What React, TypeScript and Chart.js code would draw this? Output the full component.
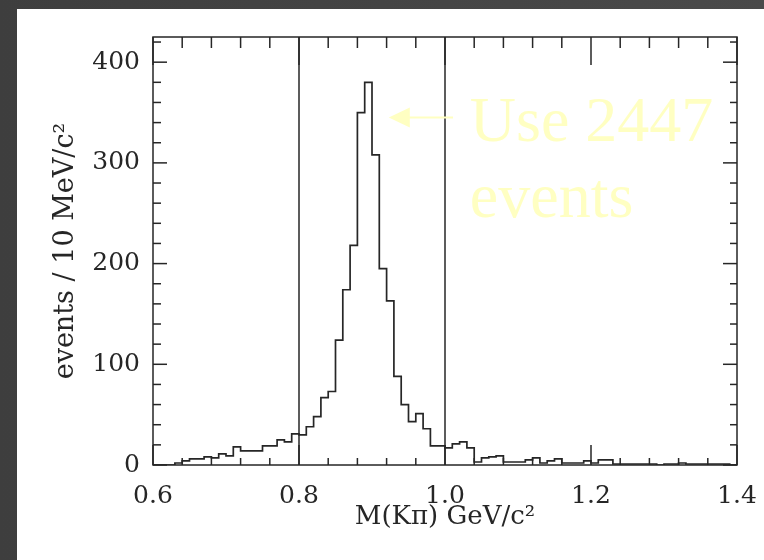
import React, { useEffect, useRef } from "react";
import { Chart, registerables } from "chart.js";

Chart.register(...registerables);

// ---- data ----
const binStart = 0.6;
const binWidth = 0.01; // 10 MeV/c^2 bins
const counts = [
  0, 0, 0, 2, 4, 6, 6, 8, 7, 11,
  9, 18, 14, 14, 14, 19, 19, 25, 23, 31,
  30, 38, 48, 67, 73, 124, 174, 218, 350, 380,
  308, 195, 163, 88, 60, 43, 51, 36, 19, 19,
  17, 21, 23, 17, 3, 7, 8, 9, 3, 3,
  3, 5, 7, 2, 4, 6, 2, 2, 2, 4,
  2, 5, 5, 1, 1, 1, 1, 1, 1, 0,
  1, 1, 2, 1, 1, 1, 1, 1, 1, 0,
];
const xMin = 0.6;
const xMax = 1.4;
const yMin = 0;
const yMax = 425;
const xMajorTicks = [0.6, 0.8, 1.0, 1.2, 1.4];
const yMajorTicks = [0, 100, 200, 300, 400];
const xMinorStep = 0.04;
const yMinorStep = 20;
const cutLines = [0.8, 1.0];
const xTitle = "M(Kπ) GeV/c²";
const yTitle = "events / 10 MeV/c²";
const noteLines = ["Use 2447", "events"];
// annotation anchor points in data units
const arrowTip = { x: 0.923, y: 345 };
const arrowTail = { x: 1.011, y: 345 };
const noteAnchor = { x: 1.034, y: [322, 246] };

const histPoints = counts.map((c, k) => ({ x: binStart + k * binWidth, y: c }));
histPoints.push({ x: binStart + counts.length * binWidth, y: counts[counts.length - 1] });

const INK = "#262626";
const NOTE = "#ffffc2";

const decorPlugin = {
  id: "decor",
  afterDatasetsDraw(chart: any) {
    const { ctx, chartArea: a, scales } = chart;
    const x = scales.x;
    const y = scales.y;
    ctx.save();
    ctx.strokeStyle = INK;
    ctx.lineWidth = 1.5;
    const line = (x1: number, y1: number, x2: number, y2: number) => {
      ctx.beginPath();
      ctx.moveTo(x1, y1);
      ctx.lineTo(x2, y2);
      ctx.stroke();
    };
    cutLines.forEach((v) => {
      const px = x.getPixelForValue(v);
      line(px, a.top, px, a.bottom);
    });
    ctx.strokeRect(a.left, a.top, a.right - a.left, a.bottom - a.top);
    const nx = Math.round((xMax - xMin) / xMinorStep);
    for (let k = 0; k <= nx; k++) {
      const v = xMin + k * xMinorStep;
      const major = xMajorTicks.some((m) => Math.abs(m - v) < 1e-6);
      const px = x.getPixelForValue(v);
      line(px, a.bottom, px, a.bottom - (major ? 20 : 7));
      line(px, a.top, px, a.top + (major ? 28 : 11));
    }
    const ny = Math.floor((yMax - yMin) / yMinorStep);
    for (let k = 0; k <= ny; k++) {
      const v = yMin + k * yMinorStep;
      const major = yMajorTicks.includes(v);
      const py = y.getPixelForValue(v);
      line(a.left, py, a.left + (major ? 14 : 8), py);
      line(a.right, py, a.right - (major ? 14 : 7), py);
    }
    // annotation arrow + text
    const tx = x.getPixelForValue(arrowTip.x);
    const ty = y.getPixelForValue(arrowTip.y);
    const ex = x.getPixelForValue(arrowTail.x);
    ctx.strokeStyle = NOTE;
    ctx.fillStyle = NOTE;
    ctx.lineWidth = 2;
    line(tx + 18, ty, ex, ty);
    ctx.beginPath();
    ctx.moveTo(tx, ty);
    ctx.lineTo(tx + 21, ty - 10);
    ctx.lineTo(tx + 21, ty + 10);
    ctx.closePath();
    ctx.fill();
    ctx.font = "64px 'Liberation Serif', serif";
    ctx.textAlign = "left";
    ctx.textBaseline = "alphabetic";
    const lx = x.getPixelForValue(noteAnchor.x);
    noteLines.forEach((t, i) => {
      ctx.fillText(t, lx, y.getPixelForValue(noteAnchor.y[i]));
    });
    ctx.restore();
  },
};

export default function App() {
  const ref = useRef<HTMLCanvasElement | null>(null);
  useEffect(() => {
    if (!ref.current) return;
    const chart = new Chart(ref.current, {
      type: "line",
      data: {
        datasets: [
          {
            data: histPoints,
            stepped: "before",
            borderColor: INK,
            borderWidth: 1.7,
            pointRadius: 0,
            fill: false,
          } as any,
        ],
      },
      options: {
        animation: false,
        responsive: false,
        devicePixelRatio: 1,
        layout: { padding: { top: 27, right: 27, left: 0, bottom: 0 } },
        plugins: { legend: { display: false }, tooltip: { enabled: false } },
        scales: {
          x: {
            type: "linear",
            min: xMin,
            max: xMax,
            grid: { display: false, drawTicks: false },
            border: { display: false },
            afterBuildTicks: (s: any) => {
              s.ticks = xMajorTicks.map((v) => ({ value: v }));
            },
            afterFit: (s: any) => {
              s.height = 95;
              s.paddingLeft = 0;
              s.paddingRight = 0;
            },
            ticks: {
              autoSkip: false,
              maxRotation: 0,
              padding: 16,
              color: INK,
              font: { family: "'DejaVu Serif', serif", size: 25 },
              callback: (v: any) => Number(v).toFixed(1),
            },
            title: {
              display: true,
              text: xTitle,
              color: INK,
              font: { family: "'DejaVu Serif', serif", size: 26 },
              padding: { top: 0, bottom: 27 },
            },
          },
          y: {
            type: "linear",
            min: yMin,
            max: yMax,
            grid: { display: false, drawTicks: false },
            border: { display: false },
            afterBuildTicks: (s: any) => {
              s.ticks = yMajorTicks.map((v) => ({ value: v }));
            },
            afterFit: (s: any) => {
              s.width = 136;
            },
            ticks: {
              padding: 13,
              color: INK,
              font: { family: "'DejaVu Serif', serif", size: 25 },
              callback: (v: any) => String(v),
            },
            title: {
              display: true,
              text: yTitle,
              color: INK,
              font: { family: "'DejaVu Serif', serif", size: 27 },
              padding: { top: 33, bottom: 0 },
            },
          },
        },
      },
      plugins: [decorPlugin],
    });
    return () => chart.destroy();
  }, []);
  return (
    <div
      style={{
        position: "fixed",
        left: 0,
        top: 0,
        width: 764,
        height: 560,
        background: "linear-gradient(90deg, #3e3e3e, #4a4a4a)",
        overflow: "hidden",
      }}
    >
      <canvas
        ref={ref}
        width={747}
        height={551}
        style={{ position: "absolute", left: 17, top: 9, background: "#ffffff", display: "block" }}
      />
    </div>
  );
}
